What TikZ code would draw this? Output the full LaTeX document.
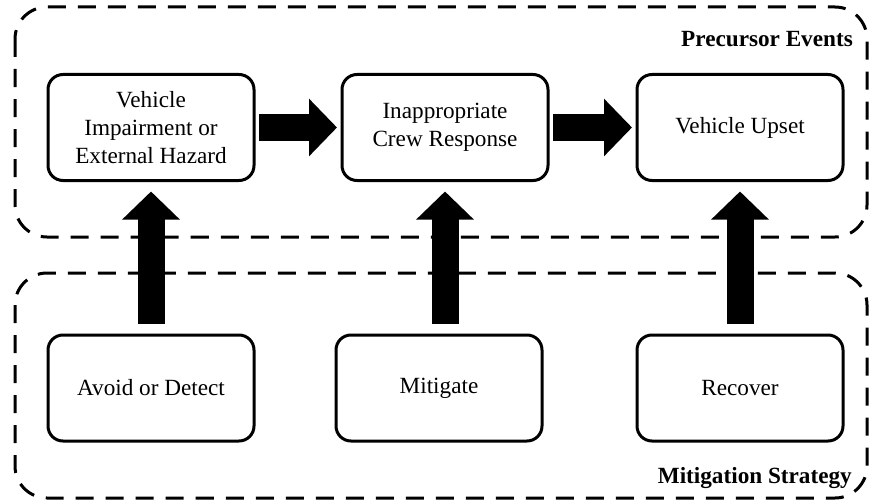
\documentclass[tikz,border=0pt]{standalone}
\usepackage{fontspec}
\setmainfont{Liberation Serif}
\usetikzlibrary{arrows.meta}
\begin{document}
\begin{tikzpicture}[x=1pt,y=-1pt,
  evt/.style={draw, line width=3pt, rounded corners=15pt, minimum width=206pt, minimum height=106pt, align=center, font=\fontsize{23.2}{28}\selectfont, inner sep=0pt},
  group/.style={draw, line width=3pt, dash pattern=on 18pt off 12pt, rounded corners=32pt},
  blk/.style={line width=27pt, -{Triangle[width=56pt,length=28pt]}},
  title/.style={font=\fontsize{23.2}{28}\selectfont\bfseries, anchor=base east, inner sep=0pt}
]
\useasboundingbox (0,0) rectangle (870,503);
\draw[group] (15,7) rectangle (867,237);
\draw[group] (15,273) rectangle (867,498);
\node[title] (pe) at (853,47) {Precursor Events};
\node[title] (ms) at (852,483) {Mitigation Strategy};
\node[evt] (vi) at (151,127.5) {Vehicle\\Impairment or\\External Hazard};
\node[evt] (cr) at (445,127.5) {Inappropriate\\Crew Response};
\node[evt] (vu) at (740,127.5) {Vehicle Upset};
\node[evt] (ad) at (151,388) {Avoid or Detect};
\node[evt] (mi) at (439,388) {Mitigate};
\node[evt] (re) at (740,388) {Recover};
\draw[blk, shorten <=3.5pt, shorten >=3.5pt] (vi.east) -- (cr.west);
\draw[blk, shorten <=3.5pt, shorten >=3.5pt] (cr.east) -- (vu.west);
\draw[blk, shorten <=9.5pt, shorten >=9.5pt] (ad.north) -- (vi.south);
\draw[blk, shorten <=9.5pt, shorten >=9.5pt] (cr.south |- mi.north) -- (cr.south);
\draw[blk, shorten <=9.5pt, shorten >=9.5pt] (re.north) -- (vu.south);
\end{tikzpicture}
\end{document}
